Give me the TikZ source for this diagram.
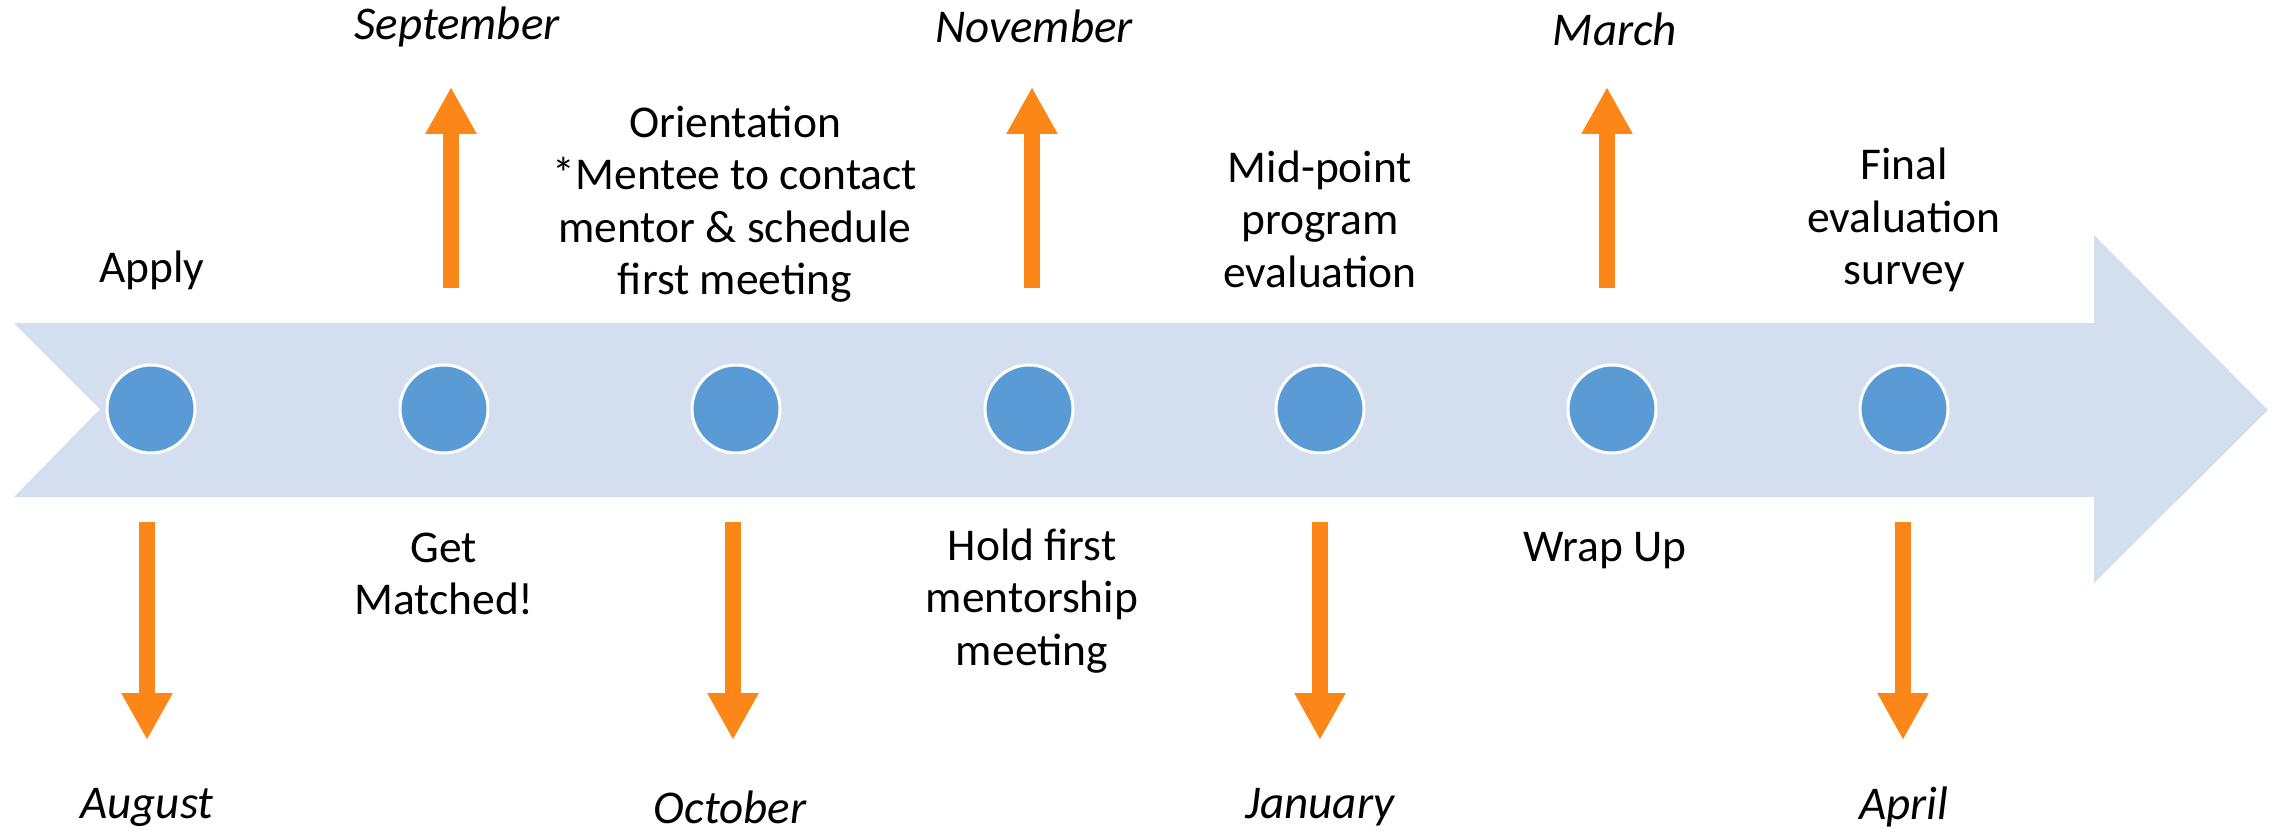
\documentclass[tikz,border=0pt]{standalone}
\usepackage{fontspec}
\setmainfont{Carlito}
\usetikzlibrary{arrows.meta}
\definecolor{bandblue}{HTML}{D3DEEF}
\definecolor{dotblue}{HTML}{5B9BD5}
\definecolor{arrorange}{HTML}{FC8617}
\tikzset{
  dot/.style={circle, fill=dotblue, draw=white, line width=3pt, minimum size=88pt, inner sep=0pt},
  mark arrow/.style={draw=arrorange, line width=16pt, -{Triangle[width=48pt,length=47pt]}, arrorange},
  lbl/.style={align=center, font=\fontsize{45.5}{52.5}\selectfont, inner sep=0pt},
  month/.style={font=\fontsize{47}{54}\selectfont\itshape, inner sep=0pt}
}
\begin{document}
\begin{tikzpicture}[x=1pt,y=-1pt]
\useasboundingbox (0,0) rectangle (2275,834);
% band arrow
\fill[bandblue] (14,323) -- (2094,323) -- (2094,235) -- (2268,410) -- (2094,583) -- (2094,497) -- (14,497) -- (100,409) -- cycle;
% dots
\foreach \i/\x in {1/151,2/444,3/736,4/1029,5/1320,6/1612,7/1904}
  \node[dot] (c\i) at (\x,409) {};
% down arrows
\foreach \n/\x in {aug/147,oct/733,jan/1320,apr/1903}{
  \coordinate (\n s) at (\x,522);
  \coordinate (\n e) at (\x,740);
  \draw[mark arrow] (\n s) -- (\n e);
}
% up arrows
\foreach \n/\x in {sep/451,nov/1032,mar/1607}{
  \coordinate (\n s) at (\x,288);
  \coordinate (\n e) at (\x,87);
  \draw[mark arrow] (\n s) -- (\n e);
}
% months
\node[month] (mAug) at (147,807) {August};
\node[month] (mSep) at (457,27) {September};
\node[month] (mOct) at (730,807) {October};
\node[month] (mNov) at (1034,26) {November};
\node[month] (mJan) at (1320,807) {January};
\node[month] (mMar) at (1615,29) {March};
\node[month] (mApr) at (1904,807) {April};
% labels
\node[lbl] (tApply) at (152,270) {Apply};
\node[lbl] (tOrient) at (735,204) {Orientation\\*Mentee to contact\\mentor \& schedule\\first meeting};
\node[lbl] (tMid) at (1320,219) {Mid-point\\program\\evaluation};
\node[lbl] (tFinal) at (1904,220) {Final\\evaluation\\survey};
\node[lbl] (tMatch) at (444,574) {Get\\Matched!};
\node[lbl] (tHold) at (1032,601) {Hold first\\mentorship\\meeting};
\node[lbl] (tWrap) at (1605,551) {Wrap Up};
\end{tikzpicture}
\end{document}
